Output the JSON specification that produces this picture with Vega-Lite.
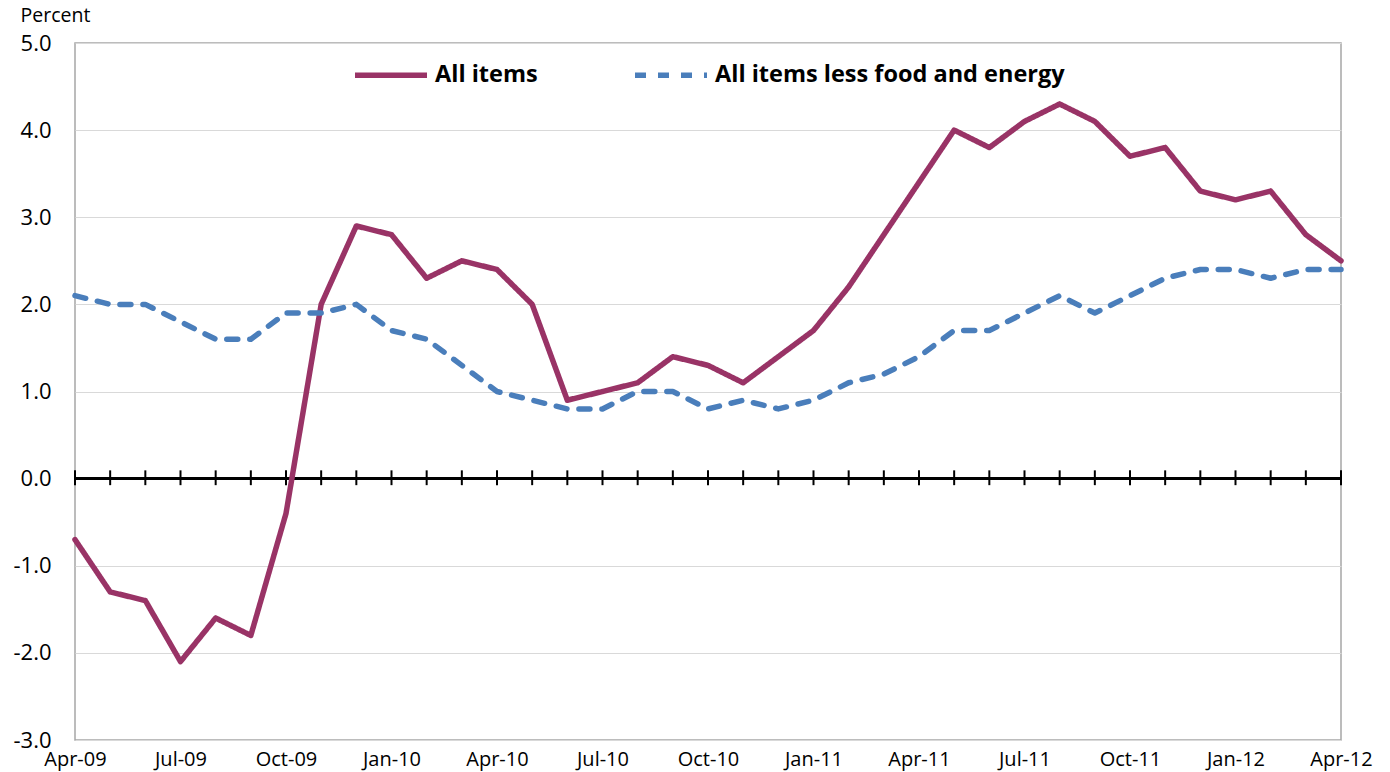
{
  "$schema": "https://vega.github.io/schema/vega-lite/v6.json",
  "width": 1266,
  "height": 697,
  "autosize": {"type": "none"},
  "padding": {"left": 75, "top": 43, "right": 49, "bottom": 32},
  "background": "white",
  "config": {
    "view": {"stroke": "#a6a6a6", "strokeWidth": 1.5},
    "font": "Open Sans"
  },
  "data": {
    "values": [
      {"month": "Apr-09", "series": "All items", "value": -0.7},
      {"month": "May-09", "series": "All items", "value": -1.3},
      {"month": "Jun-09", "series": "All items", "value": -1.4},
      {"month": "Jul-09", "series": "All items", "value": -2.1},
      {"month": "Aug-09", "series": "All items", "value": -1.6},
      {"month": "Sep-09", "series": "All items", "value": -1.8},
      {"month": "Oct-09", "series": "All items", "value": -0.4},
      {"month": "Nov-09", "series": "All items", "value": 2.0},
      {"month": "Dec-09", "series": "All items", "value": 2.9},
      {"month": "Jan-10", "series": "All items", "value": 2.8},
      {"month": "Feb-10", "series": "All items", "value": 2.3},
      {"month": "Mar-10", "series": "All items", "value": 2.5},
      {"month": "Apr-10", "series": "All items", "value": 2.4},
      {"month": "May-10", "series": "All items", "value": 2.0},
      {"month": "Jun-10", "series": "All items", "value": 0.9},
      {"month": "Jul-10", "series": "All items", "value": 1.0},
      {"month": "Aug-10", "series": "All items", "value": 1.1},
      {"month": "Sep-10", "series": "All items", "value": 1.4},
      {"month": "Oct-10", "series": "All items", "value": 1.3},
      {"month": "Nov-10", "series": "All items", "value": 1.1},
      {"month": "Dec-10", "series": "All items", "value": 1.4},
      {"month": "Jan-11", "series": "All items", "value": 1.7},
      {"month": "Feb-11", "series": "All items", "value": 2.2},
      {"month": "Mar-11", "series": "All items", "value": 2.8},
      {"month": "Apr-11", "series": "All items", "value": 3.4},
      {"month": "May-11", "series": "All items", "value": 4.0},
      {"month": "Jun-11", "series": "All items", "value": 3.8},
      {"month": "Jul-11", "series": "All items", "value": 4.1},
      {"month": "Aug-11", "series": "All items", "value": 4.3},
      {"month": "Sep-11", "series": "All items", "value": 4.1},
      {"month": "Oct-11", "series": "All items", "value": 3.7},
      {"month": "Nov-11", "series": "All items", "value": 3.8},
      {"month": "Dec-11", "series": "All items", "value": 3.3},
      {"month": "Jan-12", "series": "All items", "value": 3.2},
      {"month": "Feb-12", "series": "All items", "value": 3.3},
      {"month": "Mar-12", "series": "All items", "value": 2.8},
      {"month": "Apr-12", "series": "All items", "value": 2.5},
      {"month": "Apr-09", "series": "All items less food and energy", "value": 2.1},
      {"month": "May-09", "series": "All items less food and energy", "value": 2.0},
      {"month": "Jun-09", "series": "All items less food and energy", "value": 2.0},
      {"month": "Jul-09", "series": "All items less food and energy", "value": 1.8},
      {"month": "Aug-09", "series": "All items less food and energy", "value": 1.6},
      {"month": "Sep-09", "series": "All items less food and energy", "value": 1.6},
      {"month": "Oct-09", "series": "All items less food and energy", "value": 1.9},
      {"month": "Nov-09", "series": "All items less food and energy", "value": 1.9},
      {"month": "Dec-09", "series": "All items less food and energy", "value": 2.0},
      {"month": "Jan-10", "series": "All items less food and energy", "value": 1.7},
      {"month": "Feb-10", "series": "All items less food and energy", "value": 1.6},
      {"month": "Mar-10", "series": "All items less food and energy", "value": 1.3},
      {"month": "Apr-10", "series": "All items less food and energy", "value": 1.0},
      {"month": "May-10", "series": "All items less food and energy", "value": 0.9},
      {"month": "Jun-10", "series": "All items less food and energy", "value": 0.8},
      {"month": "Jul-10", "series": "All items less food and energy", "value": 0.8},
      {"month": "Aug-10", "series": "All items less food and energy", "value": 1.0},
      {"month": "Sep-10", "series": "All items less food and energy", "value": 1.0},
      {"month": "Oct-10", "series": "All items less food and energy", "value": 0.8},
      {"month": "Nov-10", "series": "All items less food and energy", "value": 0.9},
      {"month": "Dec-10", "series": "All items less food and energy", "value": 0.8},
      {"month": "Jan-11", "series": "All items less food and energy", "value": 0.9},
      {"month": "Feb-11", "series": "All items less food and energy", "value": 1.1},
      {"month": "Mar-11", "series": "All items less food and energy", "value": 1.2},
      {"month": "Apr-11", "series": "All items less food and energy", "value": 1.4},
      {"month": "May-11", "series": "All items less food and energy", "value": 1.7},
      {"month": "Jun-11", "series": "All items less food and energy", "value": 1.7},
      {"month": "Jul-11", "series": "All items less food and energy", "value": 1.9},
      {"month": "Aug-11", "series": "All items less food and energy", "value": 2.1},
      {"month": "Sep-11", "series": "All items less food and energy", "value": 1.9},
      {"month": "Oct-11", "series": "All items less food and energy", "value": 2.1},
      {"month": "Nov-11", "series": "All items less food and energy", "value": 2.3},
      {"month": "Dec-11", "series": "All items less food and energy", "value": 2.4},
      {"month": "Jan-12", "series": "All items less food and energy", "value": 2.4},
      {"month": "Feb-12", "series": "All items less food and energy", "value": 2.3},
      {"month": "Mar-12", "series": "All items less food and energy", "value": 2.4},
      {"month": "Apr-12", "series": "All items less food and energy", "value": 2.4}
    ]
  },
  "layer": [
    {
      "mark": {"type": "rule", "color": "#000000", "strokeWidth": 2},
      "encoding": {
        "y": {"datum": 0, "type": "quantitative"}
      }
    },
    {
      "transform": [{"filter": "datum.series === 'All items'"}],
      "mark": {"type": "rule", "color": "#000000", "strokeWidth": 2},
      "encoding": {
        "x": {
          "field": "month",
          "type": "ordinal",
          "sort": null,
          "scale": {"type": "point", "padding": 0},
          "axis": {
            "title": null,
            "values": ["Apr-09", "Jul-09", "Oct-09", "Jan-10", "Apr-10", "Jul-10", "Oct-10", "Jan-11", "Apr-11", "Jul-11", "Oct-11", "Jan-12", "Apr-12"],
            "labelAngle": 0,
            "labelAlign": "center",
            "labelBaseline": "top",
            "labelFontSize": 20,
            "labelColor": "#000000",
            "labelPadding": 9,
            "ticks": false,
            "domain": false,
            "grid": false
          }
        },
        "y": {"datum": 0.095, "type": "quantitative"},
        "y2": {"datum": -0.075}
      }
    },
    {
      "mark": {"type": "line", "strokeWidth": 5.5, "strokeJoin": "round", "strokeCap": "round"},
      "encoding": {
        "x": {
          "field": "month",
          "type": "ordinal",
          "sort": null,
          "scale": {"type": "point", "padding": 0},
          "axis": {
            "title": null,
            "values": ["Apr-09", "Jul-09", "Oct-09", "Jan-10", "Apr-10", "Jul-10", "Oct-10", "Jan-11", "Apr-11", "Jul-11", "Oct-11", "Jan-12", "Apr-12"],
            "labelAngle": 0,
            "labelAlign": "center",
            "labelBaseline": "top",
            "labelFontSize": 20,
            "labelColor": "#000000",
            "labelPadding": 9,
            "ticks": false,
            "domain": false,
            "grid": false
          }
        },
        "y": {
          "field": "value",
          "type": "quantitative",
          "scale": {"domain": [-3, 5], "nice": false, "zero": false},
          "axis": {
            "values": [-3, -2, -1, 0, 1, 2, 3, 4, 5],
            "labelExpr": "replace(format(datum.value, '.1f'), '\u2212', '-')",
            "labelFontSize": 22,
            "labelColor": "#000000",
            "labelPadding": 24,
            "ticks": false,
            "domain": false,
            "grid": true,
            "gridColor": "#d9d9d9",
            "gridWidth": 1,
            "title": "Percent",
            "titleAngle": 0,
            "titleAlign": "left",
            "titleBaseline": "alphabetic",
            "titleX": -55,
            "titleY": -22,
            "titleFontSize": 19.5,
            "titleFontWeight": "normal",
            "titleColor": "#000000"
          }
        },
        "color": {
          "field": "series",
          "type": "nominal",
          "sort": null,
          "scale": {
            "domain": ["All items", "All items less food and energy"],
            "range": ["#993366", "#4a7ebb"]
          },
          "legend": {
            "orient": "none",
            "legendX": 277,
            "legendY": -7,
            "direction": "horizontal",
            "title": null,
            "symbolType": "stroke",
            "symbolSize": 5184,
            "symbolStrokeWidth": 5.5,
            "labelFontSize": 23.5,
            "labelFontWeight": "bold",
            "labelColor": "#000000",
            "labelOffset": 5,
            "columnPadding": 86,
            "labelLimit": 600
          }
        },
        "strokeDash": {
          "field": "series",
          "type": "nominal",
          "sort": null,
          "scale": {
            "domain": ["All items", "All items less food and energy"],
            "range": [[1, 0], [11, 12]]
          },
          "legend": null
        }
      }
    }
  ]
}
